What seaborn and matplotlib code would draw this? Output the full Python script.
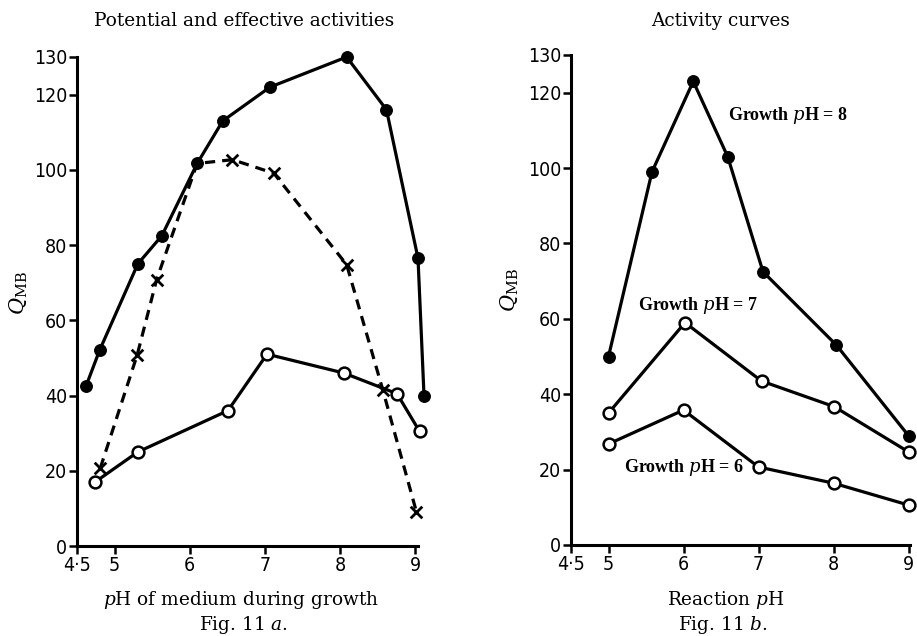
import matplotlib
matplotlib.use("Agg")
import matplotlib.pyplot as plt
import seaborn as sns
import pandas as pd
from matplotlib import font_manager

# ---- Data ----
# Fig. 11a: potential activity (filled circles, solid)
pot_ph = [4.62, 4.80, 5.31, 5.63, 6.10, 6.44, 7.07, 8.09, 8.62, 9.04, 9.12]
pot_q = [42.5, 52.0, 75.0, 82.5, 101.7, 113.0, 122.0, 130.0, 116.0, 76.5, 40.0]
# effective activity (crosses, dashed); joins the solid curve at pH 6.1
eff_ph = [4.81, 5.30, 5.56, 6.10, 6.57, 7.12, 8.09, 8.57, 9.02]
eff_q = [20.7, 50.7, 70.8, 101.7, 102.7, 99.1, 74.8, 41.6, 9.0]
eff_marked = [True, True, True, False, True, True, True, True, True]
# lower curve (open circles)
low_ph = [4.74, 5.31, 6.51, 7.03, 8.05, 8.76, 9.06]
low_q = [17.0, 25.0, 36.0, 51.0, 46.0, 40.5, 30.5]

# Fig. 11b: activity curves
g8_ph = [5.0, 5.58, 6.13, 6.59, 7.06, 8.04, 9.0]
g8_q = [50.0, 99.0, 123.0, 103.0, 72.5, 53.0, 29.0]
g7_ph = [5.0, 6.02, 7.04, 8.01, 9.0]
g7_q = [35.0, 59.0, 43.5, 36.7, 24.7]
g6_ph = [5.0, 6.0, 7.0, 8.0, 9.0]
g6_q = [26.8, 35.8, 20.7, 16.4, 10.6]

x_ticks = [4.5, 5, 6, 7, 8, 9]
x_ticklabels = ["4\u00b75", "5", "6", "7", "8", "9"]
y_ticks = [0, 20, 40, 60, 80, 100, 120, 130]
y_ticklabels = ["0", "20", "40", "60", "80", "100", "120", "130"]

# ---- Style ----
sns.set_style("ticks")
plt.rcParams["font.family"] = ["DejaVu Serif"]
plt.rcParams["mathtext.fontset"] = "dejavuserif"
plt.rcParams["text.color"] = "black"

# pick a condensed sans for tick numbers if one is installed
tick_family, tick_stretch, tick_size = "Roboto", "normal", 13
for f in font_manager.fontManager.ttflist:
    nm = f.name.lower()
    if ("narrow" in nm or "condensed" in nm or
            str(f.stretch) in ("condensed", "semi-condensed", "500", "600")) and "serif" not in nm \
            and "mono" not in nm:
        tick_family, tick_stretch, tick_size = f.name, f.stretch, 14
        break

W, H = 917, 636
fig = plt.figure(figsize=(W / 100, H / 100), dpi=100)
axL = fig.add_axes([77 / W, (H - 546) / H, (418 - 77) / W, 489 / H])
axR = fig.add_axes([571 / W, (H - 545) / H, (910 - 571) / W, 490 / H])

lw = 2.3
ms = 8.5

def style_axes(ax, xmax):
    ax.set_xlim(4.5, xmax)
    ax.set_ylim(0, 130)
    sns.despine(ax=ax)
    for s in ("left", "bottom"):
        ax.spines[s].set_linewidth(2.2)
        ax.spines[s].set_color("black")
    ax.set_xticks(x_ticks)
    ax.set_xticklabels(x_ticklabels)
    ax.set_yticks(y_ticks)
    ax.set_yticklabels(y_ticklabels)
    ax.tick_params(axis="both", direction="out", length=6, width=1.8,
                   colors="black", labelsize=tick_size, pad=1)
    for lab in ax.get_xticklabels() + ax.get_yticklabels():
        lab.set_family(tick_family)
        lab.set_stretch(tick_stretch)
        lab.set_weight("medium")
        lab.set_color("black")
    ax.set_xlabel("")
    ax.set_ylabel("")
    ax.set_facecolor("white")

# ---- Left panel ----
sns.lineplot(x=pot_ph, y=pot_q, ax=axL, color="black", lw=lw, sort=False,
             estimator=None, marker="o", markersize=ms, markerfacecolor="black",
             markeredgecolor="black", clip_on=False, zorder=3)
sns.lineplot(x=eff_ph, y=eff_q, ax=axL, color="black", lw=lw, sort=False,
             estimator=None, linestyle=(0, (3.2, 2.2)), clip_on=False, zorder=2)
cx = [p for p, m in zip(eff_ph, eff_marked) if m]
cy = [q for q, m in zip(eff_q, eff_marked) if m]
sns.scatterplot(x=cx, y=cy, ax=axL, marker="x", s=70, color="black",
                linewidth=2.0, clip_on=False, zorder=4)
sns.lineplot(x=low_ph, y=low_q, ax=axL, color="black", lw=lw, sort=False,
             estimator=None, marker="o", markersize=ms, markerfacecolor="white",
             markeredgecolor="black", markeredgewidth=1.8, clip_on=False, zorder=3)
style_axes(axL, 9.04)

# ---- Right panel ----
sns.lineplot(x=g8_ph, y=g8_q, ax=axR, color="black", lw=lw, sort=False,
             estimator=None, marker="o", markersize=ms, markerfacecolor="black",
             markeredgecolor="black", clip_on=False, zorder=3)
for xs, ys in ((g7_ph, g7_q), (g6_ph, g6_q)):
    sns.lineplot(x=xs, y=ys, ax=axR, color="black", lw=lw, sort=False,
                 estimator=None, marker="o", markersize=ms, markerfacecolor="white",
                 markeredgecolor="black", markeredgewidth=1.8, clip_on=False, zorder=3)
style_axes(axR, 9.02)

lab_font = dict(family="Liberation Serif", weight="bold", fontsize=13,
                va="center", ha="left", color="black")
axR.text(6.6, 114, r"Growth $\mathbf{\mathit{p}}$H = 8", **lab_font)
axR.text(5.4, 63.5, r"Growth $\mathbf{\mathit{p}}$H = 7", **lab_font)
axR.text(5.2, 20.5, r"Growth $\mathbf{\mathit{p}}$H = 6", **lab_font)

# ---- Titles and axis labels ----
tfs = 13.3
tkw = dict(ha="center", va="center", fontsize=tfs, color="black")
fig.text(244 / W, 1 - 21 / H, "Potential and effective activities", **tkw)
fig.text(721 / W, 1 - 21 / H, "Activity curves", **tkw)
fig.text(241 / W, 1 - 600 / H, r"$p$H of medium during growth", **tkw)
fig.text(243 / W, 1 - 625 / H, r"Fig. 11 $a$.", **tkw)
fig.text(726 / W, 1 - 600 / H, r"Reaction $p$H", **tkw)
fig.text(723 / W, 1 - 625 / H, r"Fig. 11 $b$.", **tkw)
fig.text(19 / W, 1 - 293 / H, r"$Q_{\mathrm{MB}}$", ha="center", va="center",
         rotation=90, fontsize=15, color="black")
fig.text(510 / W, 1 - 290 / H, r"$Q_{\mathrm{MB}}$", ha="center", va="center",
         rotation=90, fontsize=15, color="black")

fig.savefig("out.png", dpi=100, facecolor="white")
